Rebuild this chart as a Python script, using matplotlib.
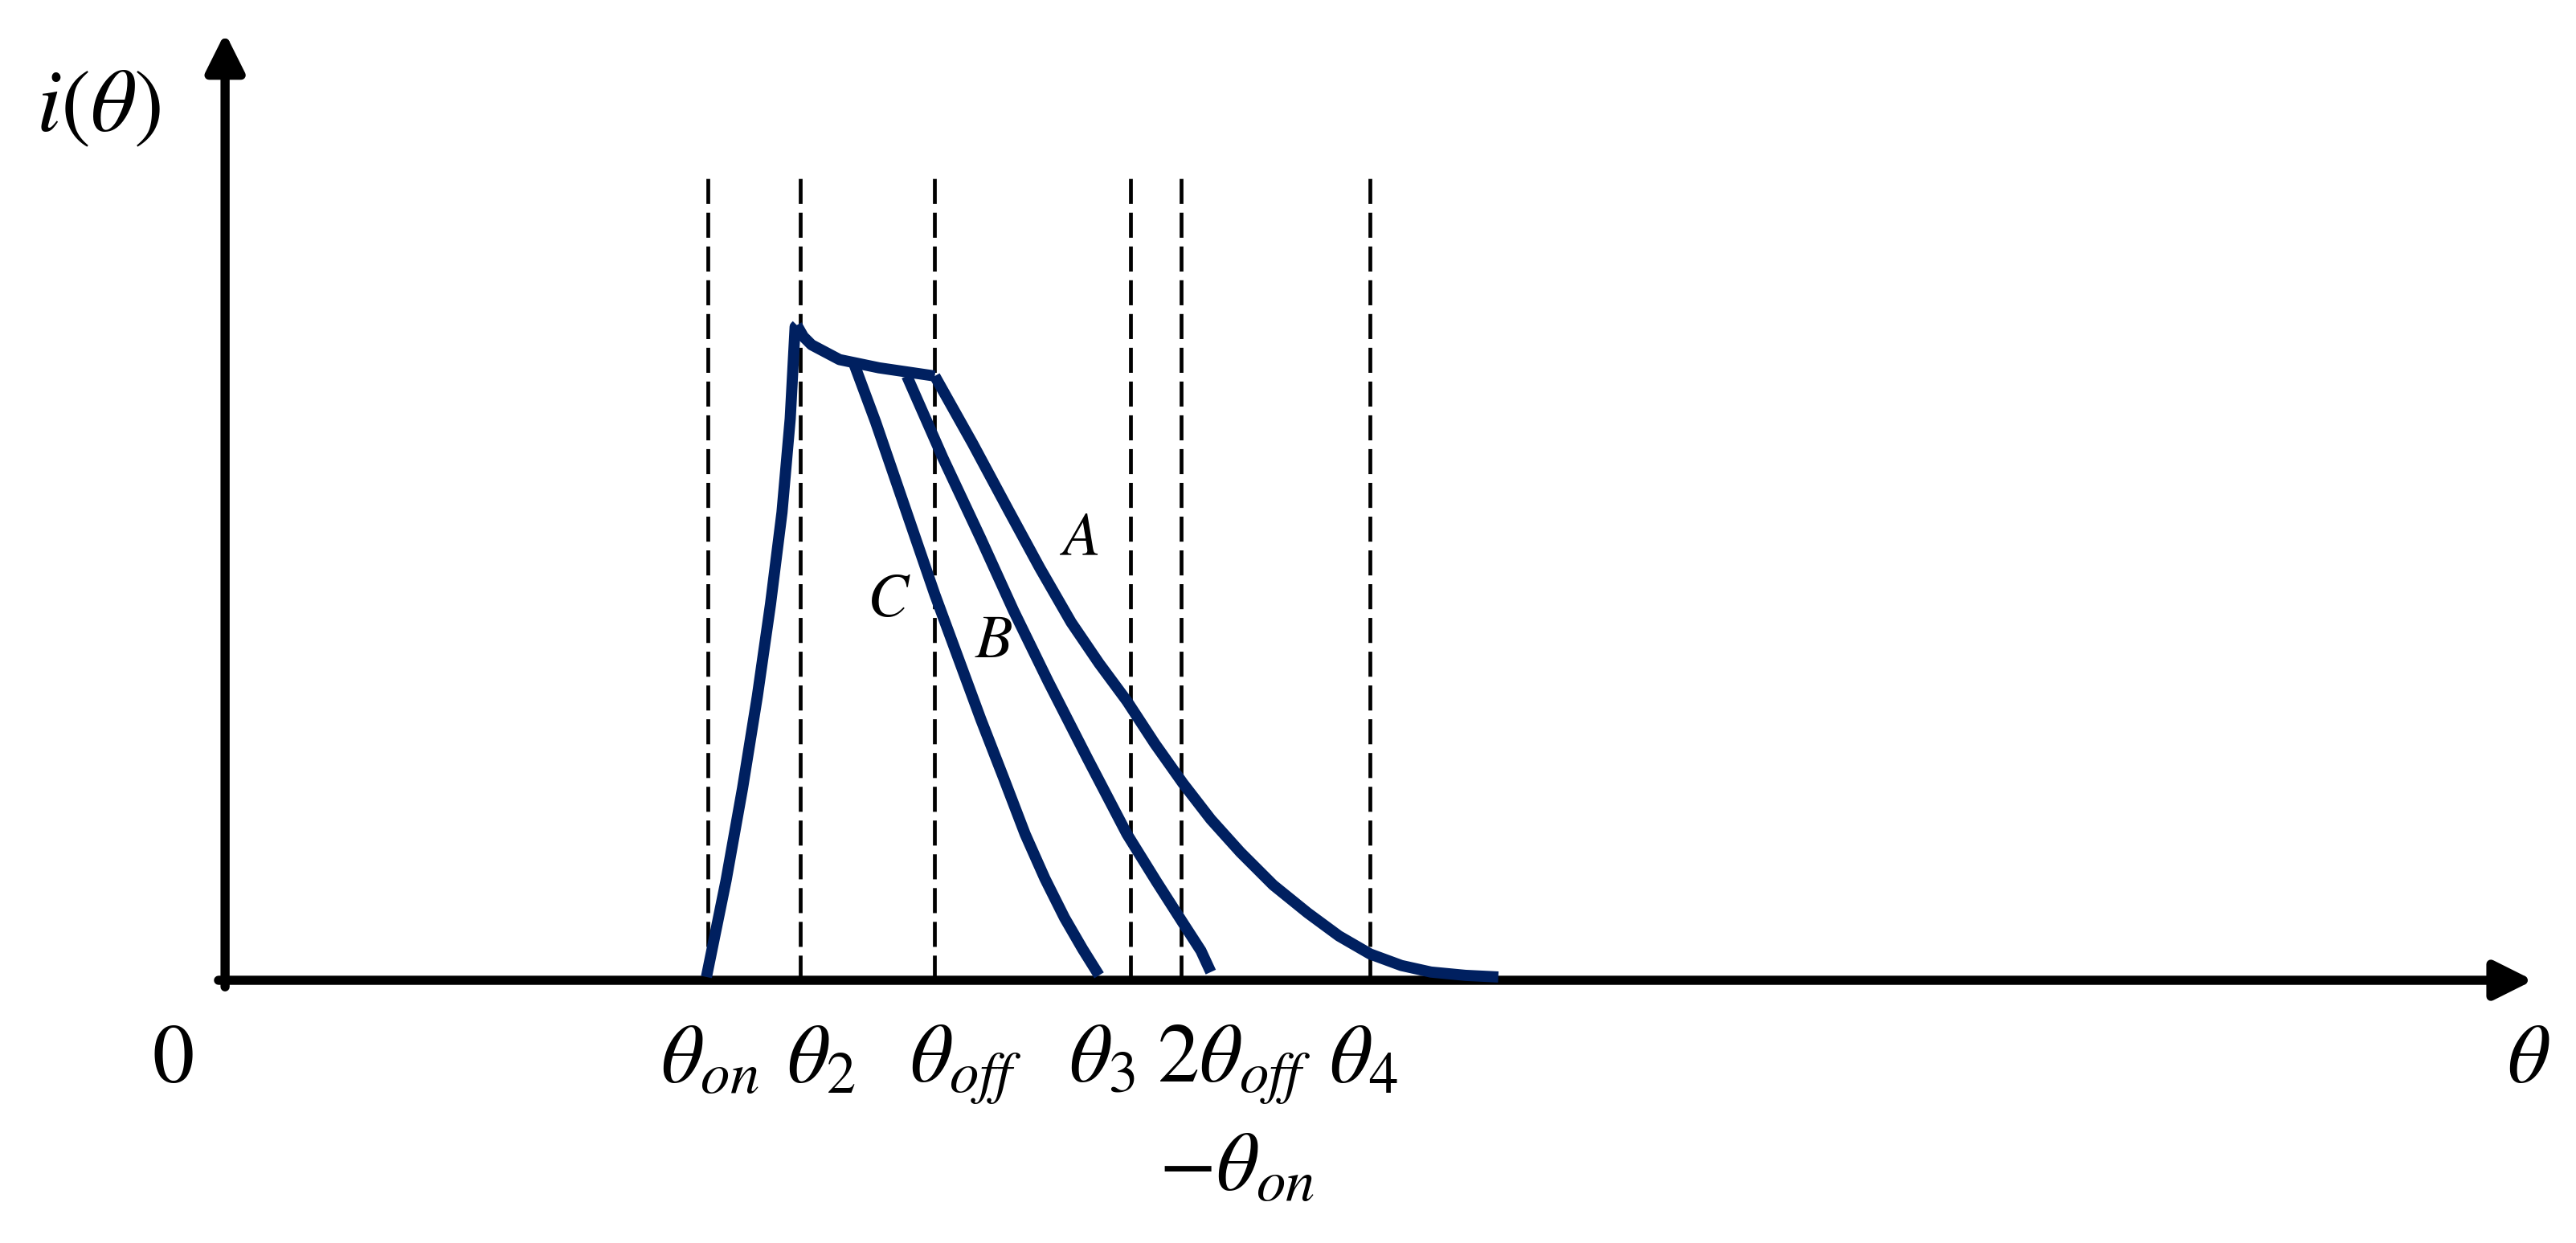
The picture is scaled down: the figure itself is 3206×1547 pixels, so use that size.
import matplotlib
matplotlib.use('Agg')
import matplotlib.pyplot as plt

plt.rcParams['mathtext.fontset'] = 'stix'
plt.rcParams['font.family'] = ['STIXGeneral', 'DejaVu Serif']

# кривая тока: нарастание до theta_2 и общий участок до отключения
rise_x = [293, 305, 315, 324, 332, 339, 344, 347, 348]
rise_y = [2, 61, 117, 173, 229, 285, 342, 398, 399]
top_x = [348, 352, 357, 374, 398, 432]
top_y = [399, 392, 387, 378, 373, 368]

# ветви спада A, B, C
a_x = [432, 455, 477, 496, 515, 532, 549, 566, 583, 600, 618, 638, 659, 678, 697, 716, 734, 755, 775]
a_y = [368, 327, 286, 251, 218, 193, 170, 144, 120, 98, 78, 58, 41, 27, 16, 9, 5, 3, 2]
b_x = [415, 437, 460, 480, 501, 525, 549, 567, 583, 594, 600]
b_y = [368, 318, 269, 225, 182, 135, 89, 60, 35, 18, 5]
c_x = [383, 396, 408, 420, 432, 446, 460, 474, 487, 499, 511, 522, 532]
c_y = [375, 340, 305, 270, 235, 197, 159, 123, 89, 62, 38, 19, 3]

# вертикальные пунктиры и подписи к ним
mark_x = [294, 350, 432, 551, 582, 697]
tick_x = [295, 363, 451, 534, 614, 693]
tick_txt = [r'$\theta_{on}$', r'$\theta_2$', r'$\theta_{off}$', r'$\theta_3$',
            r'$2\theta_{off}$', r'$\theta_4$']
curve_names = ['A', 'B', 'C']
name_x = [520, 468, 404]
name_y = [267, 205, 230]

navy = '#002060'

fig = plt.figure(figsize=(32.06, 15.47), dpi=100)
ax = fig.add_axes([0, 0, 1, 1])
ax.set_xlim(-137, 1431)
ax.set_ylim(-160, 597)
ax.axis('off')

for x in mark_x:
    ax.plot([x, x], [0, 489], color='black', lw=3.4, dashes=(6.6, 2.3), zorder=1)

lw = 10
for xs, ys in [(rise_x, rise_y), (top_x, top_y), (a_x, a_y), (b_x, b_y), (c_x, c_y)]:
    ax.plot(xs, ys, color=navy, lw=lw, solid_capstyle='butt', solid_joinstyle='round', zorder=3)

# оси со стрелками
arrow = dict(arrowstyle='-|>,head_length=0.4,head_width=0.2', lw=8.2, color='black',
             shrinkA=0, shrinkB=0, mutation_scale=72)
ax.annotate('', xy=(1405, 0), xytext=(-4, 0), arrowprops=arrow, zorder=2)
ax.annotate('', xy=(0, 577), xytext=(0, -4), arrowprops=arrow, zorder=2)

fs = 75
base1 = -62
base2 = -128
for x, t in zip(tick_x, tick_txt):
    ax.text(x, base1, t, fontsize=fs, ha='center', va='baseline')
ax.text(616, base2, r'$-\theta_{on}$', fontsize=fs, ha='center', va='baseline')
ax.text(-32, base1, r'$0$', fontsize=fs, ha='center', va='baseline')
ax.text(1402, base1, r'$\theta$', fontsize=fs, ha='center', va='baseline')
ax.text(-77, 530, r'$i(\theta)$', fontsize=80, ha='center', va='center')

for n, x, y in zip(curve_names, name_x, name_y):
    ax.text(x, y, '$' + n + '$', fontsize=55, ha='center', va='center')

fig.savefig('out.png', dpi=100)
